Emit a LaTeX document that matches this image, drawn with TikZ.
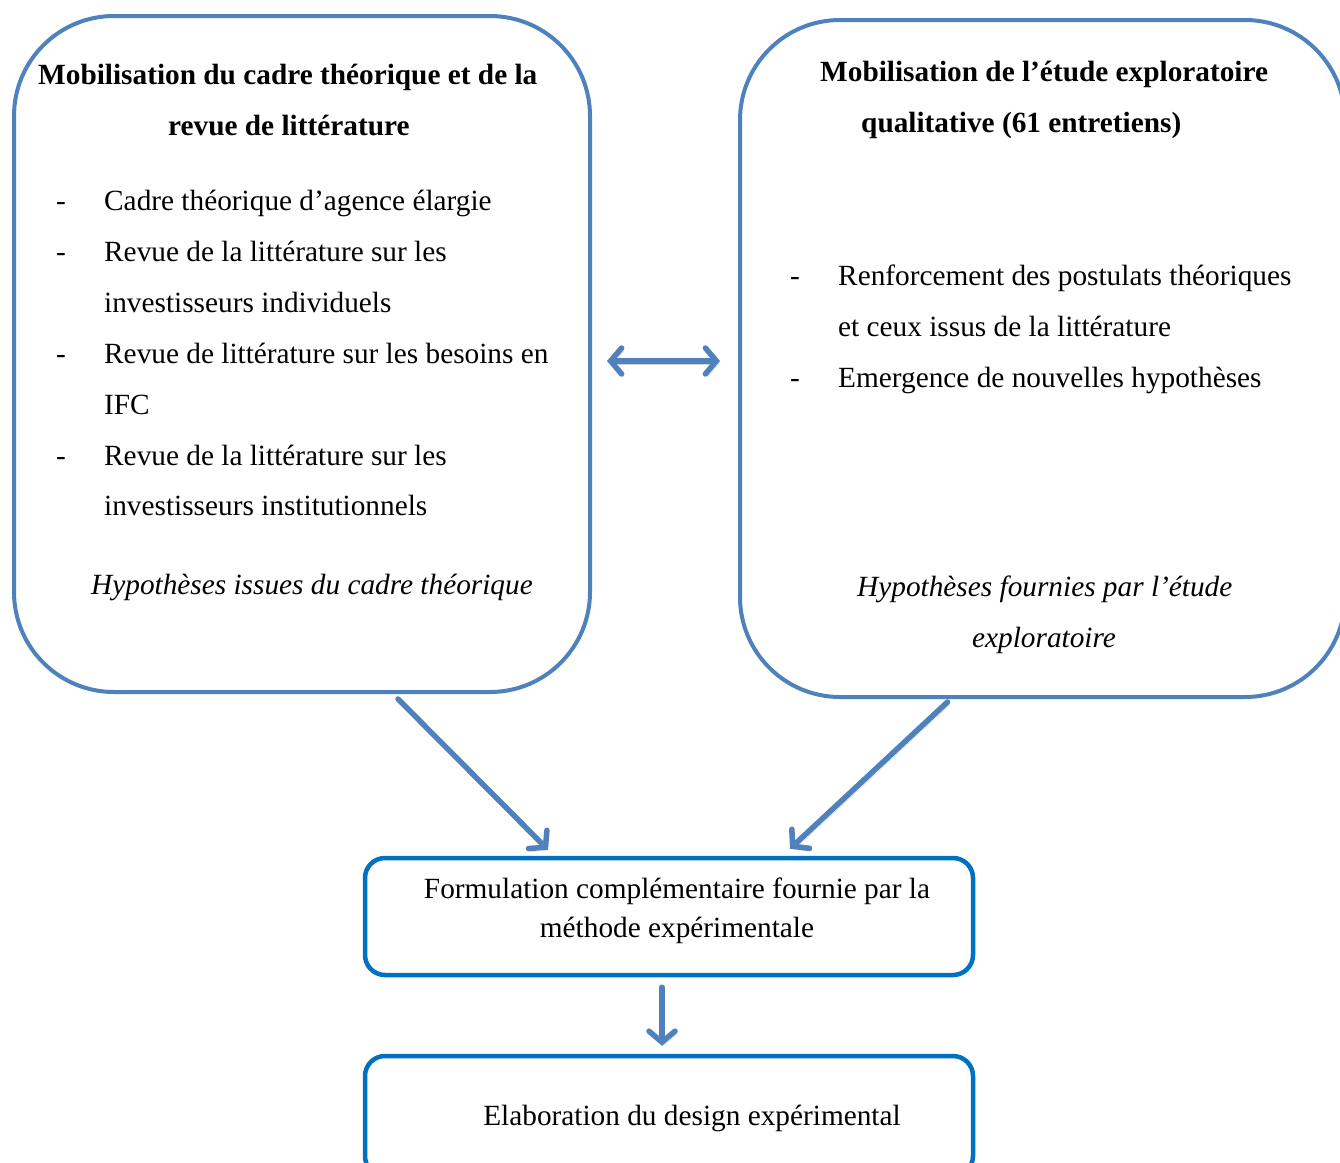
\documentclass[tikz,border=0pt]{standalone}
\usepackage{fontspec}
\setmainfont{Liberation Serif}
\usetikzlibrary{arrows.meta}
\definecolor{boxblue}{RGB}{79,129,189}
\definecolor{solidblue}{RGB}{0,112,192}
\definecolor{arrowblue}{RGB}{79,129,189}
\tikzset{
  bigbox/.style={draw=boxblue, line width=4pt, rounded corners=100pt, inner sep=0pt},
  smallbox/.style={draw=solidblue, line width=4.5pt, rounded corners=20pt, inner sep=0pt},
  txt/.style={anchor=base west, inner sep=0pt, font=\fontsize{29.3}{35}\selectfont},
  btxt/.style={txt, font=\fontsize{29.3}{35}\selectfont\bfseries},
  itxt/.style={txt, font=\fontsize{29.3}{35}\selectfont\itshape},
  conn/.style={draw=arrowblue, line width=5.5pt, line cap=round,
    -{Straight Barb[length=11pt, width=26pt, line cap=round]},
    preaction={draw=black, opacity=0.18, transform canvas={shift={(2pt,-3pt)}}}},
  dconn/.style={conn, {Straight Barb[length=11pt, width=26pt, line cap=round]}-{Straight Barb[length=11pt, width=26pt, line cap=round]}}
}
\begin{document}
\begin{tikzpicture}[x=1pt, y=-1pt]
\useasboundingbox (0,0) rectangle (1340,1162);
\fill[white] (0,0) rectangle (1340,1162);
% boxes
\node[bigbox, minimum width=576pt, minimum height=676pt] (L) at (302,354) {};
\node[bigbox, minimum width=605pt, minimum height=677pt] (R) at (1042.5,358.5) {};
\node[smallbox, minimum width=608pt, minimum height=117pt] (F) at (669,916.5) {};
\node[smallbox, minimum width=608pt, minimum height=120pt] (E) at (669,1116) {};
% left box text
\node[btxt] (lt1) at (38,84) {Mobilisation du cadre théorique et de la};
\node[btxt] (lt2) at (168,135) {revue de littérature};
\node[txt] (ld1) at (56,210) {-};
\node[txt] (l1) at (104,210) {Cadre théorique d’agence élargie};
\node[txt] (ld2) at (56,261) {-};
\node[txt] (l2) at (104,261) {Revue de la littérature sur les};
\node[txt] (l3) at (104,312) {investisseurs individuels};
\node[txt] (ld3) at (56,363) {-};
\node[txt] (l4) at (104,363) {Revue de littérature sur les besoins en};
\node[txt] (l5) at (104,414) {IFC};
\node[txt] (ld4) at (56,465) {-};
\node[txt] (l6) at (104,465) {Revue de la littérature sur les};
\node[txt] (l7) at (104,515) {investisseurs institutionnels};
\node[itxt] (lh) at (91,594) {Hypothèses issues du cadre théorique};
% right box text
\node[btxt] (rt1) at (820,81) {Mobilisation de l’étude exploratoire};
\node[btxt] (rt2) at (861,132) {qualitative (61 entretiens)};
\node[txt] (rd1) at (790,285) {-};
\node[txt] (r1) at (838,285) {Renforcement des postulats théoriques};
\node[txt] (r2) at (838,336) {et ceux issus de la littérature};
\node[txt] (rd2) at (790,387) {-};
\node[txt] (r3) at (838,387) {Emergence de nouvelles hypothèses};
\node[itxt] (rh1) at (857,596) {Hypothèses fournies par l’étude};
\node[itxt, anchor=base] (rh2) at (1044,647) {exploratoire};
% bottom boxes text
\node[txt, anchor=base] (f1) at (677,898) {Formulation complémentaire fournie par la};
\node[txt, anchor=base] (f2) at (677,937) {méthode expérimentale};
\node[txt, anchor=base] (e1) at (692,1125) {Elaboration du design expérimental};
% connectors
\draw[dconn] ([xshift=15pt, yshift=-7pt]L.east) -- ([xshift=-18pt, yshift=-2.5pt]R.west);
\draw[conn] ([xshift=96pt, yshift=-5pt]L.south) -- ([xshift=-121pt, yshift=6pt]F.north);
\draw[conn] ([xshift=-95pt, yshift=-3pt]R.south) -- ([xshift=121pt, yshift=7pt]F.north);
\draw[conn] ([xshift=-7pt, yshift=-10pt]F.south) -- ([xshift=-7pt, yshift=8pt]E.north);
\end{tikzpicture}
\end{document}
